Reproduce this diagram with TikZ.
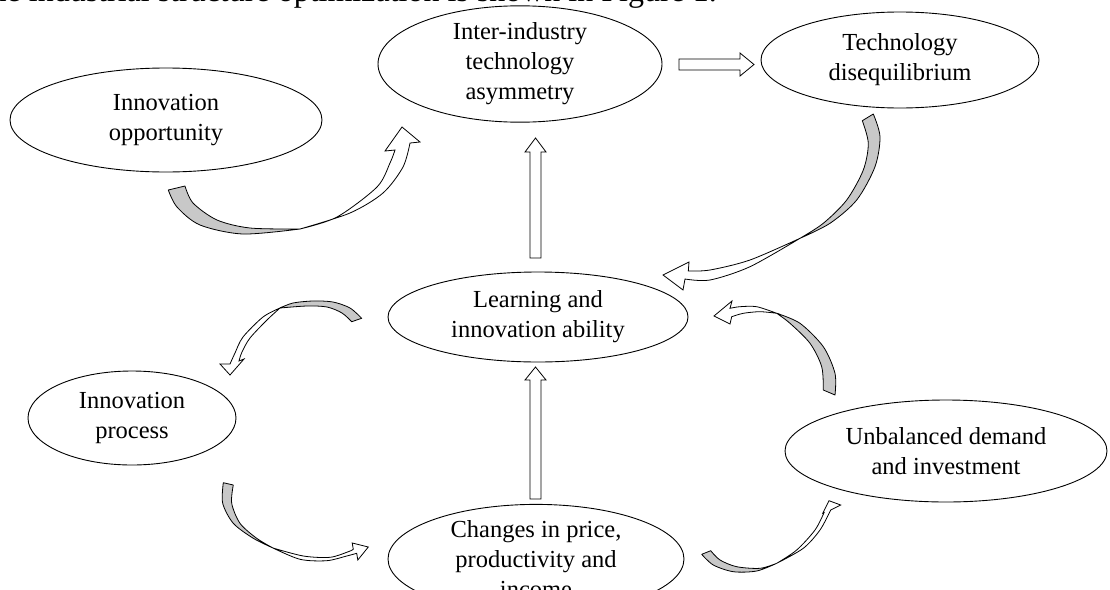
\documentclass[tikz,border=0pt]{standalone}
\usepackage{fontspec}
\setmainfont{Liberation Serif}
\usetikzlibrary{shapes.geometric}
\definecolor{backgray}{RGB}{200,200,200}
\tikzset{
  oval/.style={draw=black, line width=0.9pt, ellipse, inner sep=0pt, align=center,
    font=\fontsize{24.5}{30}\selectfont},
  blockarrow/.style={draw=black, line width=0.8pt, fill=white, line join=miter},
  ribbonback/.style={draw=black, line width=0.8pt, fill=backgray, line join=round},
  ribbonfront/.style={draw=black, line width=0.8pt, fill=white, line join=miter},
}
\begin{document}
\begin{tikzpicture}[x=1pt,y=-1pt]
\useasboundingbox (0,0) rectangle (1110,589);
\clip (0,0) rectangle (1110,589);
\fill[white] (0,0) rectangle (1110,589);

% cut-off line of running text
\node[anchor=base east, inner sep=0pt, font=\fontsize{32}{38}\selectfont] (caption) at (717,1.5)
  {the industrial structure optimization is shown in Figure 1.};

% ellipses
\node[oval, minimum width=312pt, minimum height=104pt] (opp) at (166,120) {Innovation\\opportunity};
\node[oval, minimum width=284pt, minimum height=112pt] (inter) at (520,64) {Inter-industry\\technology\\asymmetry};
\node[oval, minimum width=278pt, minimum height=96pt] (tech) at (900,60) {Technology\\disequilibrium};
\node[oval, minimum width=300pt, minimum height=90pt] (learn) at (538,317) {Learning and\\innovation ability};
\node[oval, minimum width=208pt, minimum height=94pt] (proc) at (132,418) {Innovation\\process};
\node[oval, minimum width=296pt, minimum height=90pt] (change) at (536,559) {Changes in price,\\productivity and\\income};
\node[oval, minimum width=322pt, minimum height=102pt] (unbal) at (946,451) {Unbalanced demand\\and investment};

% straight block arrows
\draw[blockarrow] (679,59) -- (740,59) -- (740,53) -- (754,64.5) -- (740,76) -- (740,70) -- (679,70) -- cycle;
\draw[blockarrow] (530,258) -- (530,152) -- (525,152) -- (535.5,138) -- (546,152) -- (541,152) -- (541,258) -- cycle;
\draw[blockarrow] (530,499) -- (530,380) -- (525,380) -- (535.5,367) -- (546,380) -- (541,380) -- (541,499) -- cycle;

% curved arrow 1: opportunity -> inter-industry
\filldraw[ribbonback] plot[smooth] coordinates {(168.3,190) (177,207) (200,225) (243,234) (300,229)}
  -- plot[smooth] coordinates {(300,229) (250,228) (217,220) (193,203) (185,186)} -- cycle;
\filldraw[ribbonfront] plot[smooth] coordinates {(300,229) (350,213) (383,193) (403,167) (410,143)}
  -- (420,142) -- (402,127) -- (385,151)
  -- plot[smooth] coordinates {(395,150) (390,163) (377,187) (337,217) (300,229)} -- cycle;

% curved arrow 2: technology disequilibrium -> learning
\filldraw[ribbonback] plot[smooth] coordinates {(862.3,120.7) (868.3,143.3) (863.3,170) (846.7,200) (823.3,223.3) (800,238.3)}
  -- plot[smooth] coordinates {(800,238.3) (830,223.3) (856.7,200) (875,166.7) (880,136.7) (873.3,114)} -- cycle;
\filldraw[ribbonfront] plot[smooth] coordinates {(800,238.3) (750,260) (710,270) (688.3,271)}
  -- (689,262) -- (663,275) -- (683,290)
  -- plot[smooth] coordinates {(685,279) (710,280) (750,266.7) (800,238.3)} -- cycle;

% curved arrow 3: unbalanced -> learning
\filldraw[ribbonback] plot[smooth] coordinates {(823.3,390) (821.7,366.7) (810,343.3) (790,323.3) (776.7,313.3)}
  -- plot[smooth] coordinates {(776.7,313.3) (800,323.3) (823.3,346.7) (835,373.3) (835,395)} -- cycle;
\filldraw[ribbonfront] plot[smooth] coordinates {(776.7,313.3) (756.7,306.7) (740,306.7) (730,308.3)}
  -- (732,301) -- (714,316) -- (730,324)
  -- plot[smooth] coordinates {(731.7,316.7) (743.3,313.3) (760,311.7) (776.7,313.3)} -- cycle;

% curved arrow 4: learning -> innovation process
\filldraw[ribbonback] plot[smooth] coordinates {(361.7,318.3) (350,308) (333,302) (313,301) (293,303) (280,308)}
  -- plot[smooth] coordinates {(280,308) (307,306) (327,307) (342,313) (351.7,321.7)} -- cycle;
\filldraw[ribbonfront] plot[smooth] coordinates {(280,308) (263,317) (243,337) (235,353) (230,364)}
  -- (220,364) -- (230,375) -- (244,359)
  -- plot[smooth] coordinates {(239,361) (242,352) (250,338) (267,320) (280,308)} -- cycle;

% curved arrow 5: innovation process -> changes
\filldraw[ribbonback] plot[smooth] coordinates {(223.3,482.7) (222.7,503.3) (233.3,523.3) (253.3,538.3) (273,548)}
  -- plot[smooth] coordinates {(273,548) (256.7,538.3) (240,523.3) (231.7,503.3) (233.3,485)} -- cycle;
\filldraw[ribbonfront] plot[smooth] coordinates {(273,548) (300,559.3) (326.7,560.7) (346.7,556) (356.7,553.3)}
  -- (357.8,560) -- (368.3,547) -- (352.2,543)
  -- plot[smooth] coordinates {(353.3,549.3) (348.3,551.7) (330,557.3) (303.3,556) (273,548)} -- cycle;

% curved arrow 6: changes -> unbalanced
\filldraw[ribbonback] plot[smooth] coordinates {(701.7,554.3) (713.3,565) (733.3,571.7) (756.7,571) (776.7,563.3)}
  -- plot[smooth] coordinates {(776.7,563.3) (760,568.3) (736.7,566.7) (720,560) (710.7,550.7)} -- cycle;
\filldraw[ribbonfront] plot[smooth] coordinates {(776.7,563.3) (803.3,548.3) (820,530) (830.7,510)}
  -- (840.7,505) -- (829,500.7) -- (822.7,513.3)
  -- plot[smooth] coordinates {(824,512.7) (815,530) (796.7,550) (776.7,563.3)} -- cycle;
\end{tikzpicture}
\end{document}
